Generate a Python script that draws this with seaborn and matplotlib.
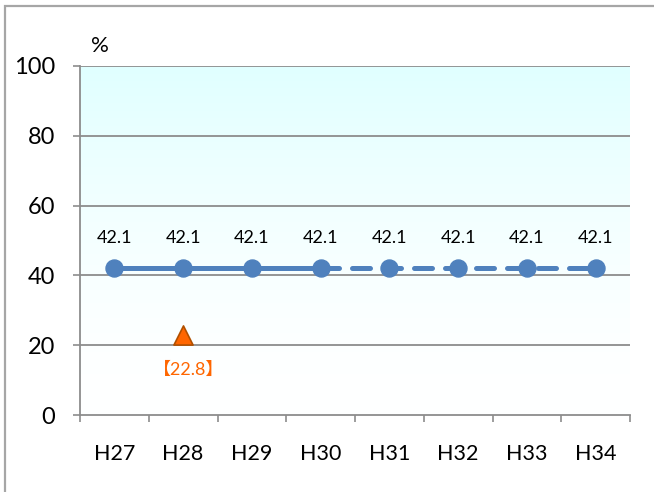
import matplotlib
matplotlib.use("Agg")
import matplotlib.pyplot as plt
import numpy as np
import pandas as pd
import seaborn as sns
from matplotlib.patches import Rectangle

# Fiscal years and target rate (%)
years = ["H27", "H28", "H29", "H30", "H31", "H32", "H33", "H34"]
target = [42.1, 42.1, 42.1, 42.1, 42.1, 42.1, 42.1, 42.1]
# Index where the plan moves from actual-period (solid) to projection (dashed)
split_index = 3
# Actual measured value
actual_year = "H28"
actual_value = 22.8

y_ticks = [0, 20, 40, 60, 80, 100]

sns.set_theme(style="white")
plt.rcParams["font.family"] = ["Lato", "Noto Sans CJK JP", "DejaVu Sans"]
plt.rcParams["text.color"] = "black"
plt.rcParams["xtick.color"] = "black"
plt.rcParams["ytick.color"] = "black"

blue = "#4F81BD"
grid_gray = "#8C8C8C"

df = pd.DataFrame({"year": years, "pos": np.arange(len(years)), "value": target})
solid = df.iloc[: split_index + 1]
dashed = df.iloc[split_index:]

fig = plt.figure(figsize=(6.54, 4.92), dpi=100)
ax = fig.add_axes([80 / 654, 1 - 415 / 492, 550 / 654, (415 - 66) / 492])

# Outer chart frame
fig.patches.append(Rectangle((5 / 654, -0.1), 1.2, 1 - 6 / 492 + 0.1,
                             transform=fig.transFigure, fill=False,
                             edgecolor="#A6A6A6", linewidth=1.6, zorder=0))

# Vertical gradient background: light cyan at top fading to white
grad = np.linspace(0, 1, 256).reshape(-1, 1) ** 1.6
top = np.array([224, 255, 255]) / 255
bot = np.array([255, 255, 255]) / 255
img = bot + (top - bot) * grad[:, :, None] * np.ones((1, 1, 3))
ax.imshow(img, extent=[-0.5, len(years) - 0.5, 0, 100], origin="lower",
          aspect="auto", zorder=0)

for yv in y_ticks[1:]:
    ax.axhline(yv, color=grid_gray, linewidth=1.3, zorder=1)

sns.lineplot(data=solid, x="pos", y="value", ax=ax, color=blue,
             linewidth=3.6, zorder=3, solid_capstyle="round")
line_d = sns.lineplot(data=dashed, x="pos", y="value", ax=ax, color=blue,
                      linewidth=3.6, zorder=3)
line_d.lines[-1].set_dashes([3.6, 2.6])
line_d.lines[-1].set_dash_capstyle("round")

sns.scatterplot(data=df, x="pos", y="value", ax=ax, color=blue, s=150,
                edgecolor=blue, linewidth=1, zorder=4)

for p, v in zip(df["pos"], df["value"]):
    ax.annotate(f"{v:.1f}", (p, v), xytext=(0, 22), textcoords="offset points",
                ha="center", va="center", fontsize=13)

ax_pos = years.index(actual_year)
act = pd.DataFrame({"pos": [ax_pos], "value": [actual_value]})
sns.scatterplot(data=act, x="pos", y="value", ax=ax, marker="^", s=190,
                color="#FF6600", edgecolor="#B05000", linewidth=1.2, zorder=5)
ax.annotate(f"【{actual_value}】", (ax_pos, actual_value), xytext=(4, -25),
            textcoords="offset points", ha="center", va="center",
            fontsize=13, color="#FF6600")

ax.set_xlim(-0.5, len(years) - 0.5)
ax.set_ylim(0, 100)
ax.set_xlabel("")
ax.set_ylabel("")

ax.set_yticks(y_ticks)
ax.set_yticklabels([str(t) for t in y_ticks], fontsize=17)
ax.set_xticks(np.arange(len(years)))
ax.set_xticklabels(years, fontsize=15.5)
ax.set_xticks(np.arange(len(years) + 1) - 0.5, minor=True)

ax.tick_params(axis="y", which="major", left=True, length=5, width=1.2,
               color=grid_gray, pad=13)
ax.tick_params(axis="x", which="major", bottom=False, pad=15)
ax.tick_params(axis="x", which="minor", bottom=True, length=5, width=1.2,
               color=grid_gray)

for side in ["top", "right"]:
    ax.spines[side].set_visible(False)
for side in ["left", "bottom"]:
    ax.spines[side].set_color(grid_gray)
    ax.spines[side].set_linewidth(1.3)

fig.text(100 / 654, 1 - 46 / 492, "%", ha="center", va="center", fontsize=16)

fig.savefig("out.png", dpi=100)
